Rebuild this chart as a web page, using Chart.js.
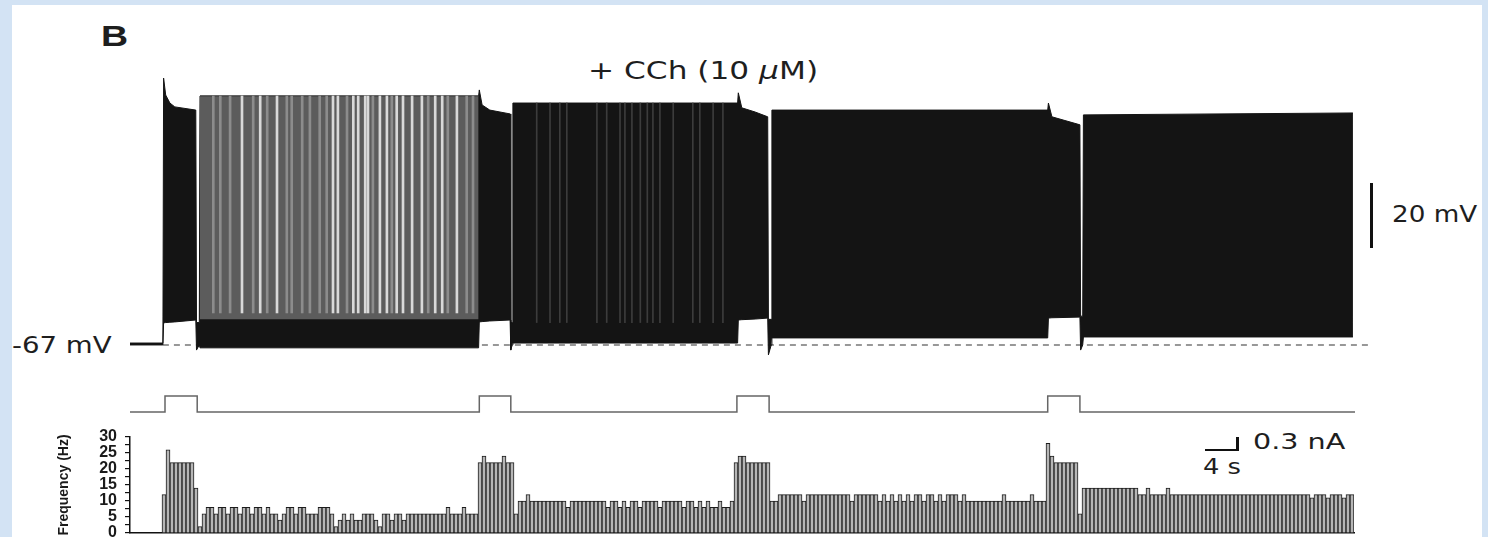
<!DOCTYPE html>
<html>
<head>
<meta charset="utf-8">
<script src="https://cdn.jsdelivr.net/npm/chart.js@4.4.1/dist/chart.umd.min.js"></script>
<style>
  html, body { margin: 0; padding: 0; }
  body { width: 1488px; height: 537px; overflow: hidden; background: #d3e3f4; position: relative; font-family: "DejaVu Sans", sans-serif; }
  #panel { position: absolute; left: 12px; top: 5px; width: 1470px; height: 540px; background: #fff; }
  canvas { position: absolute; left: 0; }
  .lbl { position: absolute; white-space: nowrap; line-height: 1; color: #1e1e1e; transform-origin: 0 0; }
  .sbar { position: absolute; background: #111; }
</style>
</head>
<body>
<div id="panel"></div>

<div class="lbl" style="left:101px; top:19px; font:bold 30px 'Liberation Sans'; transform:scaleX(1.25)">B</div>
<div class="lbl" style="left:588px; top:59px; font-size:24px; transform:scaleX(1.3)">+ CCh (10 <i>μ</i>M)</div>
<div class="lbl" style="left:12px; top:334px; font-size:23px; transform:scaleX(1.2)">-67 mV</div>
<div class="lbl" style="left:1392px; top:203px; font-size:23px; transform:scaleX(1.14)">20 mV</div>
<div class="lbl" style="left:1253px; top:431px; font-size:22px; transform:scaleX(1.3)">0.3 nA</div>
<div class="lbl" style="left:1203px; top:456px; font-size:22px; transform:scaleX(1.17)">4 s</div>

<!-- scale bars -->
<div class="sbar" style="left:1370px; top:183px; width:3px; height:65px"></div>
<div class="sbar" style="left:1236px; top:437px; width:3px; height:14px"></div>
<div class="sbar" style="left:1205px; top:449px; width:33px; height:2px"></div>

<canvas id="traceChart" width="1488" height="300" style="top:60px"></canvas>
<canvas id="stimChart" width="1488" height="35" style="top:385px"></canvas>
<canvas id="freqChart" width="1488" height="120" style="top:425px"></canvas>

<script>
// ---- membrane potential (mV) vs time (s); spike envelope
const envTime   = [0, 4.7, 4.8, 5.1, 5.7, 6.4, 9.4, 9.5, 9.9, 10.0, 49.8, 49.9, 50.3, 51.4, 54.3, 54.4, 54.6, 54.7, 86.8, 86.9, 87.4, 89.3, 91.1, 91.2, 91.6, 91.7, 131.1, 131.2, 131.7, 135.7, 135.8, 136.1, 136.2, 174.7];
const envTop    = [-66.4, -66.4, 16.4, 11.1, 8.6, 7.4, 6.4, -60, -60, 10.8, 10.8, 12.7, 8.0, 6.4, 5.2, -60, -60, 8.6, 8.6, 11.8, 7.1, 5.8, 4.3, -59, -59, 6.4, 6.4, 8.6, 4.3, 1.8, -58, -58, 4.9, 5.5];
const envBottom = [-67, -67, -60.1, -60.0, -59.9, -59.8, -59.2, -68.6, -67, -67.9, -67.9, -59.8, -59.7, -59.5, -59.2, -68.6, -67, -66.4, -66.4, -59.2, -59.1, -58.9, -58.6, -70.1, -67, -64.8, -64.8, -58.6, -58.5, -58.3, -68.6, -67, -64.5, -64.5];

// first (pre-CCh) tonic period, drawn grey
const burstTime   = [10.0, 49.8];
const burstTop    = [10.8, 10.8];
const burstBottom = [-59, -59];

// pale / grey gaps between spikes in the grey period, thin grey lines in the 2nd period
const lightStripes = [16.0, 18.6, 21.0, 29.0, 29.7, 31.9, 32.6, 33.6, 34.0, 35.7, 36.7, 38.1, 39.0, 40.3, 41.7, 43.6, 44.6, 46.7];
const greyStripes  = [11.9, 12.9, 14.3, 17.6, 19.6, 22.4, 23.1, 24.6, 25.7, 27.1, 28.1, 31.0, 34.7, 37.4, 42.6, 45.4, 48.1, 49.0];
const darkStripes  = [58.1, 60.0, 61.4, 62.4, 66.7, 68.1, 70.0, 70.7, 71.7, 72.9, 73.9, 74.7, 75.7, 77.6, 80.4, 81.4, 83.3, 84.7];
const burstStripeRange = [-57, 10.8];
const tonicStripeRange = [-60, 8.6];

const restPotential = -67;
const restLineSpan = [4.7, 176.9];

// ---- injected current steps (nA)
const stimOn  = [5.0, 49.9, 86.7, 131.1];
const stimOff = [9.6, 54.4, 91.3, 135.7];
const stimAmp = 0.4;
const stimSpan = [0, 175];

// ---- instantaneous frequency histogram (Hz), one value per bin
const preStepFreq = [0, 0, 0, 0, 0, 0, 0, 0];
const step1Freq = [12, 26, 22, 22, 22, 22, 22, 22, 14];
const rest1Freq = [2,
  6, 8, 8, 6, 8, 8, 6, 8, 8, 6, 8, 8, 6, 8, 8, 6, 8, 6, 6, 4, 6, 8, 8, 6, 8, 8, 6, 6, 6, 8, 8, 8, 6,
  2, 4, 6, 4, 6,
  4, 4, 6, 6, 6, 4, 2, 6, 6, 4, 6, 6, 4, 6, 6,
  6, 6, 6, 6, 6, 6, 6, 6, 8,
  6, 6, 6, 8, 6, 6, 6];
const step2Freq = [22, 24, 22, 22, 22, 22, 24, 22, 22];
const rest2Freq = [6, 10, 10, 12,
  10, 10, 10, 10, 10, 10, 10, 10, 10, 8, 10, 10, 10, 10, 10, 10, 10, 10, 10, 8,
  10, 10, 8, 10, 8, 10, 10, 8, 10, 10, 10, 10, 8, 10, 10, 10, 10, 10, 8,
  10, 10, 8, 10, 8, 10, 8, 8, 10, 8, 8, 10];
const step3Freq = [22, 24, 24, 22, 22, 22, 22, 22, 22];
const rest3Freq = [10, 10,
  12, 12, 12, 12, 12, 12, 10, 12, 12, 12, 12, 12, 12, 12, 12, 12, 12, 12, 10,
  12, 12, 12, 12, 12, 12, 10, 12, 10, 12, 10,
  12, 10, 12, 10, 12, 12, 10, 12, 12, 10, 12, 10, 12, 12, 12, 10, 12, 10,
  10, 10, 10, 10, 10, 10, 10, 10, 12, 10, 10, 10, 10, 10, 10, 12, 10, 10, 10];
const step4Freq = [28, 24, 22, 22, 22, 22, 22, 22];
const rest4Freq = [6,
  14, 14, 14, 14, 14, 14, 14, 14, 14, 14, 14, 14, 14, 14,
  12, 12, 14, 12, 12, 12, 12, 14,
  12, 12, 12, 12, 12, 12, 12, 12, 12, 12,
  12, 12, 12, 12, 12, 12, 12, 12, 12, 12,
  12, 12, 12, 12, 12, 12, 12, 12, 12, 12,
  12, 12, 12, 12, 12, 11, 12, 12, 12, 11,
  12, 12, 12, 11, 12, 12];

const pts = (xs, ys) => xs.map((x, i) => ({ x: x, y: ys[i] }));
const noChrome = { legend: { display: false }, tooltip: { enabled: false } };
const timeAxis = { type: 'linear', min: 0, max: 177.14, display: false, offset: false };

// Voltage trace
new Chart(document.getElementById('traceChart'), {
  type: 'line',
  data: {
    datasets: [
      { data: pts(envTime, envTop), fill: '+1', backgroundColor: '#141414', borderColor: '#141414', borderWidth: 1, pointRadius: 0, order: 3 },
      { data: pts(envTime, envBottom), fill: false, borderColor: '#141414', borderWidth: 1, pointRadius: 0, order: 4 },
      { data: pts(burstTime, burstTop), fill: '+1', backgroundColor: '#5c5c5c', borderColor: '#3a3a3a', borderWidth: 1, pointRadius: 0, order: 1 },
      { data: pts(burstTime, burstBottom), fill: false, borderColor: 'rgba(0,0,0,0)', borderWidth: 0, pointRadius: 0, order: 2 },
      { type: 'bar', data: greyStripes.map(t => ({ x: t, y: burstStripeRange })), backgroundColor: '#8c8c8c', barThickness: 2, grouped: false, order: 0 },
      { type: 'bar', data: lightStripes.map(t => ({ x: t, y: burstStripeRange })), backgroundColor: '#d9d9d9', barThickness: 2, grouped: false, order: 0 },
      { type: 'bar', data: darkStripes.map(t => ({ x: t, y: tonicStripeRange })), backgroundColor: '#3c3c3c', barThickness: 1, grouped: false, order: 0 },
      { data: pts(restLineSpan, [restPotential, restPotential]), fill: false, borderColor: '#777', borderDash: [6, 5], borderWidth: 1.5, pointRadius: 0, order: 9 }
    ]
  },
  options: {
    responsive: false, animation: false, devicePixelRatio: 1,
    layout: { padding: { left: 130, right: 118, top: 0, bottom: 0 } },
    plugins: noChrome,
    scales: { x: timeAxis, y: { min: -71.7, max: 22.05, display: false } }
  }
});

// Current step protocol
const stimPoints = [{ x: stimSpan[0], y: 0 }];
stimOn.forEach((t, i) => { stimPoints.push({ x: t, y: stimAmp }, { x: stimOff[i], y: 0 }); });
stimPoints.push({ x: stimSpan[1], y: 0 });

new Chart(document.getElementById('stimChart'), {
  type: 'line',
  data: { datasets: [{ data: stimPoints, stepped: true, borderColor: '#666', borderWidth: 1.5, pointRadius: 0, fill: false }] },
  options: {
    responsive: false, animation: false, devicePixelRatio: 1,
    layout: { padding: { left: 130, right: 118, top: 0, bottom: 0 } },
    plugins: noChrome,
    scales: { x: timeAxis, y: { min: -0.2, max: 0.675, display: false } }
  }
});

// Frequency histogram
const freq = [].concat(preStepFreq, step1Freq, rest1Freq, step2Freq, rest2Freq, step3Freq, rest3Freq, step4Freq, rest4Freq);
const binLabels = freq.map((_, i) => String(i));

new Chart(document.getElementById('freqChart'), {
  type: 'bar',
  data: {
    labels: binLabels,
    datasets: [{ data: freq, backgroundColor: '#b6b6b6', borderColor: '#1c1c1c', borderWidth: 1, categoryPercentage: 1, barPercentage: 1 }]
  },
  options: {
    responsive: false, animation: false, devicePixelRatio: 1,
    layout: { padding: { left: 56, right: 134, top: 12, bottom: 12 } },
    plugins: noChrome,
    scales: {
      x: {
        grid: { display: false },
        ticks: { display: false },
        border: { display: true, color: '#111', width: 1.5 },
        afterFit: s => { s.height = 0; }
      },
      y: {
        min: 0, max: 30,
        afterFit: s => { s.width = 74; },
        ticks: {
          stepSize: 2.5, autoSkip: false, padding: 8, color: '#1a1a1a',
          font: { family: 'Liberation Sans', size: 16, weight: 'bold', lineHeight: 0.1 },
          callback: v => (v % 5 === 0 ? v : '')
        },
        grid: { display: true, drawOnChartArea: false, drawTicks: true, tickLength: 5, color: '#111', lineWidth: 1.2 },
        border: { display: true, color: '#111', width: 1.5 },
        title: { display: true, text: 'Frequency (Hz)', color: '#1a1a1a', font: { family: 'Liberation Sans', size: 14, weight: 'bold' }, padding: 0 }
      }
    }
  }
});
</script>
</body>
</html>
